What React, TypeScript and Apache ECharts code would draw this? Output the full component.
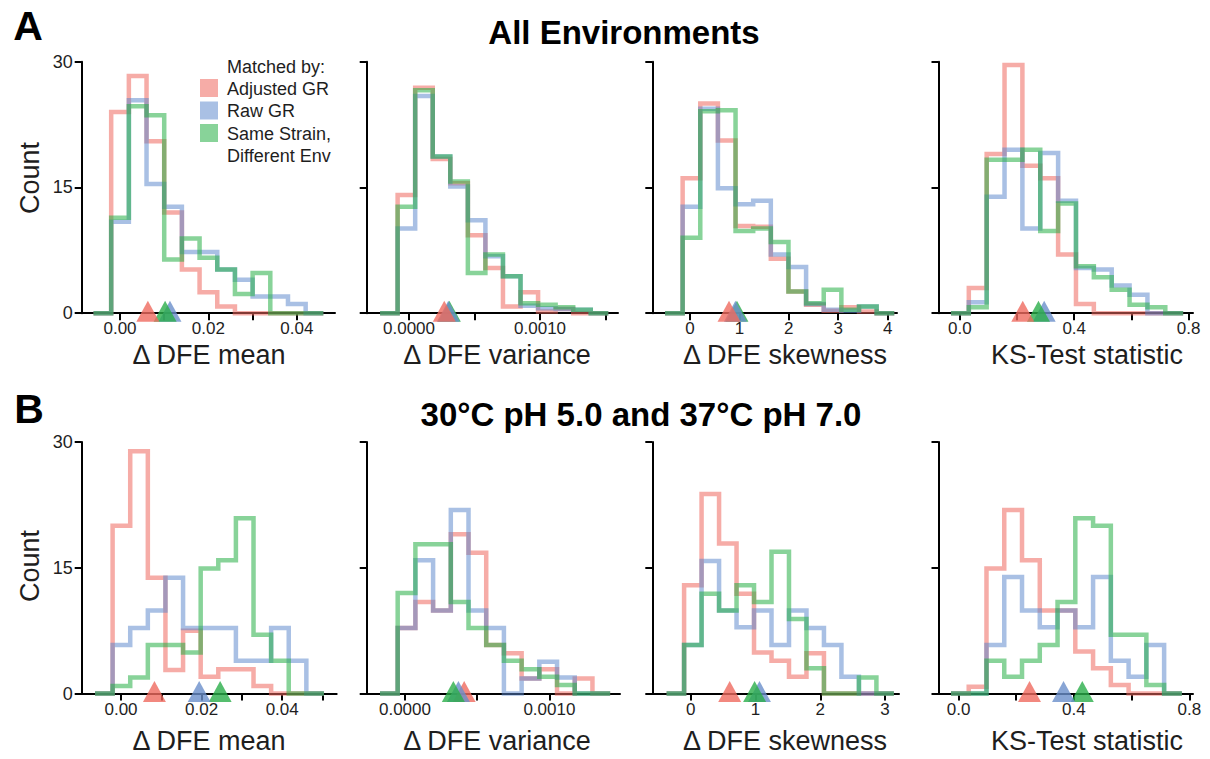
import React, { useEffect, useRef } from "react";
import * as echarts from "echarts";

// ---------- shared ----------
const SERIES_NAMES = ["Adjusted GR", "Raw GR", "Same Strain, Different Env"];
const COUNT_TICKS = [0, 15, 30];

// ---------- All Environments ----------
// histogram bins: [first edge, bin width]
const meanAllBins = [-0.006, 0.004];
const meanAllAdjusted = [0, 24.0, 28.3, 20.5, 12.0, 5.2, 2.5, 0.8, 0, 0, 0, 0, 0];
const meanAllRaw = [0, 10.9, 25.4, 15.4, 12.7, 7.3, 7.3, 5.2, 4.0, 2.0, 2.0, 1.1, 0];
const meanAllStrain = [0, 11.4, 24.7, 23.6, 6.4, 8.9, 6.6, 5.2, 2.3, 4.8, 0, 0, 0];
const meanAllMedians = [0.0063, 0.0113, 0.0102];

const varAllBins = [-0.000221, 0.000134];
const varAllAdjusted = [0, 14.1, 26.9, 18.4, 15.5, 9.3, 5.4, 0.8, 2.5, 0.2, 0.5, 0, 0];
const varAllRaw = [0, 10.1, 25.9, 18.7, 15.1, 11.1, 6.8, 4.4, 0.9, 0.6, 0.5, 0.4, 0];
const varAllStrain = [0, 12.7, 26.6, 18.7, 15.7, 4.8, 7.0, 4.4, 1.2, 1.0, 0.7, 0.4, 0];
const varAllMedians = [0.000269, 0.0003, 0.000308];

const skewAllBins = [-0.506, 0.357];
const skewAllAdjusted = [0, 16.1, 25.0, 20.6, 10.4, 10.3, 6.5, 2.6, 1.0, 0.3, 0.7, 0.2, 0];
const skewAllRaw = [0, 12.7, 24.4, 14.9, 13.0, 13.4, 7.0, 5.5, 1.1, 0.4, 0.3, 0.8, 0];
const skewAllStrain = [0, 9.0, 24.1, 24.2, 9.8, 10.1, 8.5, 2.6, 1.2, 2.8, 0.4, 0.8, 0];
const skewAllMedians = [0.79, 0.92, 0.95];

const ksAllBins = [-0.03125, 0.0625];
const ksAllAdjusted = [0, 3.0, 19.0, 29.6, 17.6, 16.1, 7.0, 1.1, 0, 0, 0, 0, 0];
const ksAllRaw = [0, 1.3, 13.9, 19.5, 10.1, 19.1, 13.4, 5.4, 5.2, 3.3, 2.2, 0, 0];
const ksAllStrain = [0, 0.7, 18.3, 18.3, 19.5, 9.8, 13.1, 5.6, 4.3, 2.8, 1.0, 0.7, 0];
const ksAllMedians = [0.22, 0.295, 0.275];

// ---------- 30°C pH 5.0 and 37°C pH 7.0 ----------
const meanPairBins = [-0.00645, 0.00437];
const meanPairAdjusted = [0, 20.0, 28.9, 13.8, 2.8, 7.5, 2.0, 2.9, 2.9, 0.9, 0, 0, 0];
const meanPairRaw = [0, 5.8, 7.8, 9.9, 13.8, 7.8, 7.8, 7.8, 3.9, 3.9, 7.8, 3.9, 0];
const meanPairStrain = [0, 0.9, 1.9, 5.8, 5.8, 4.9, 14.9, 15.9, 20.9, 7.0, 3.9, 0, 0];
const meanPairMedians = [0.0083, 0.0194, 0.0246];

const varPairBins = [-0.000173, 0.0001226];
const varPairAdjusted = [0, 7.8, 10.9, 9.9, 19.0, 16.8, 5.8, 4.8, 1.8, 2.9, 0, 1.8, 0];
const varPairRaw = [0, 7.8, 15.9, 9.9, 21.9, 9.9, 7.8, 0, 1.8, 3.8, 1.9, 0, 0];
const varPairStrain = [0, 12.0, 17.8, 17.8, 10.9, 7.8, 5.8, 3.9, 2.9, 2.0, 1.0, 0, 0];
const varPairMedians = [0.00041, 0.00037, 0.000335];

const skewPairBins = [-0.374, 0.27];
const skewPairAdjusted = [0, 12.9, 23.8, 17.9, 11.9, 4.9, 3.9, 2.0, 4.8, 0, 0, 0, 0];
const skewPairRaw = [0, 5.8, 15.8, 9.9, 7.9, 9.9, 5.8, 9.9, 7.8, 5.8, 2.0, 0, 0];
const skewPairStrain = [0, 5.8, 11.9, 9.9, 12.9, 10.9, 16.9, 8.9, 3.0, 0, 0, 1.9, 0];
const skewPairMedians = [0.6, 1.06, 0.985];

const ksPairBins = [-0.0264, 0.0616];
const ksPairAdjusted = [0, 0.8, 14.9, 21.9, 15.9, 9.9, 9.9, 5.0, 3.0, 1.0, 0, 0, 0];
const ksPairRaw = [0, 0, 5.8, 13.9, 9.9, 7.9, 9.9, 7.9, 13.9, 3.9, 2.0, 5.8, 0];
const ksPairStrain = [0, 0, 3.9, 2.0, 3.9, 5.8, 10.9, 20.9, 20.0, 7.0, 7.0, 1.0, 0];
const ksPairMedians = [0.246, 0.364, 0.429];

// ---------- axis ticks ----------
const meanTicksA = [0, 0.01, 0.02, 0.03, 0.04];
const meanTicksB = [0, 0.01, 0.02, 0.03, 0.04, 0.05];
const meanLabels = [0, 0.02, 0.04];
const varTicksA = [0, 0.0005, 0.001, 0.0015];
const varTicksB = [0, 0.0005, 0.001];
const varLabels = [0, 0.001];
const skewTicksA = [0, 1, 2, 3, 4];
const skewTicksB = [0, 1, 2, 3];
const ksTicks = [0, 0.2, 0.4, 0.6, 0.8];
const ksLabels = [0, 0.4, 0.8];

const AXIS_TITLES = ["Δ DFE mean", "Δ DFE variance", "Δ DFE skewness", "KS-Test statistic"];

// ---------- styling / layout ----------
const FONT = '"Liberation Sans", Arial, Helvetica, sans-serif';
const LINE_COLORS = ["rgba(239,104,94,0.55)", "rgba(90,134,204,0.52)", "rgba(38,174,70,0.55)"];
const MARK_COLORS = ["#EF6A5F", "#6A8FCB", "#2AAE4A"];
const TEXT = "#1e1e1e";

const COL_LEFT = [81.7, 366.7, 652.3, 938.5];
const ROW_TOP = [61.7, 442];
const PLOT_H = 251.5;
const TITLE_X = [209, 497, 785, 1087];
const TITLE_Y = [355, 741];

type Panel = {
  row: number;
  col: number;
  bins: number[];
  counts: number[][];
  medians: number[];
  xMin: number;
  xMax: number;
  right: number;
  ticks: number[];
  labels: number[];
  decimals: number;
};

const panels: Panel[] = [
  { row: 0, col: 0, bins: meanAllBins, counts: [meanAllAdjusted, meanAllRaw, meanAllStrain], medians: meanAllMedians, xMin: -0.00867, xMax: 0.04864, right: 335, ticks: meanTicksA, labels: meanLabels, decimals: 2 },
  { row: 0, col: 1, bins: varAllBins, counts: [varAllAdjusted, varAllRaw, varAllStrain], medians: varAllMedians, xMin: -0.000323, xMax: 0.001595, right: 618, ticks: varTicksA, labels: varLabels, decimals: 4 },
  { row: 0, col: 2, bins: skewAllBins, counts: [skewAllAdjusted, skewAllRaw, skewAllStrain], medians: skewAllMedians, xMin: -0.763, xMax: 4.19, right: 897, ticks: skewTicksA, labels: skewTicksA, decimals: 0 },
  { row: 0, col: 3, bins: ksAllBins, counts: [ksAllAdjusted, ksAllRaw, ksAllStrain], medians: ksAllMedians, xMin: -0.0748, xMax: 0.8157, right: 1193, ticks: ksTicks, labels: ksLabels, decimals: 1 },
  { row: 1, col: 0, bins: meanPairBins, counts: [meanPairAdjusted, meanPairRaw, meanPairStrain], medians: meanPairMedians, xMin: -0.00975, xMax: 0.05352, right: 336.7, ticks: meanTicksB, labels: meanLabels, decimals: 2 },
  { row: 1, col: 1, bins: varPairBins, counts: [varPairAdjusted, varPairRaw, varPairStrain], medians: varPairMedians, xMin: -0.000265, xMax: 0.001489, right: 620, ticks: varTicksB, labels: varLabels, decimals: 4 },
  { row: 1, col: 2, bins: skewPairBins, counts: [skewPairAdjusted, skewPairRaw, skewPairStrain], medians: skewPairMedians, xMin: -0.595, xMax: 3.215, right: 899, ticks: skewTicksB, labels: skewTicksB, decimals: 0 },
  { row: 1, col: 3, bins: ksPairBins, counts: [ksPairAdjusted, ksPairRaw, ksPairStrain], medians: ksPairMedians, xMin: -0.0696, xMax: 0.8129, right: 1193, ticks: ksTicks, labels: ksLabels, decimals: 1 },
];

// outline of a histogram as a closed staircase along the bin edges
function stepOutline(bins: number[], counts: number[]): number[][] {
  const [start, width] = bins;
  const pts: number[][] = [[start, 0]];
  counts.forEach((c, i) => {
    const x0 = start + i * width;
    pts.push([x0, c], [x0 + width, c]);
  });
  pts.push([start + counts.length * width, 0]);
  return pts;
}

const axisLineStyle = { color: "#000", width: 2 };

function buildOption() {
  const grid: any[] = [];
  const xAxis: any[] = [];
  const yAxis: any[] = [];
  const series: any[] = [];

  panels.forEach((p, i) => {
    const left = COL_LEFT[p.col];
    grid.push({ left, top: ROW_TOP[p.row], width: p.right - left, height: PLOT_H, containLabel: false });
    xAxis.push({
      type: "value",
      gridIndex: i,
      min: p.xMin,
      max: p.xMax,
      axisLine: { show: true, onZero: false, lineStyle: axisLineStyle },
      axisTick: { show: true, customValues: p.ticks, length: 7, lineStyle: axisLineStyle },
      axisLabel: {
        show: true,
        customValues: p.labels,
        formatter: (v: number) => v.toFixed(p.decimals),
        color: TEXT,
        fontSize: 17,
        lineHeight: 17,
        fontFamily: FONT,
        margin: 7,
        hideOverlap: false,
      },
      splitLine: { show: false },
    });
    yAxis.push({
      type: "value",
      gridIndex: i,
      min: 0,
      max: 30,
      interval: 15,
      axisLine: { show: true, onZero: false, lineStyle: axisLineStyle },
      axisTick: { show: true, customValues: COUNT_TICKS, length: 7, lineStyle: axisLineStyle },
      axisLabel: {
        show: p.col === 0,
        customValues: COUNT_TICKS,
        color: TEXT,
        fontSize: 18,
        fontFamily: FONT,
        margin: 9,
      },
      splitLine: { show: false },
    });

    p.counts.forEach((counts, k) => {
      series.push({
        type: "line",
        name: SERIES_NAMES[k],
        xAxisIndex: i,
        yAxisIndex: i,
        data: stepOutline(p.bins, counts),
        symbol: "none",
        showSymbol: false,
        silent: true,
        clip: false,
        z: 3,
        lineStyle: { color: LINE_COLORS[k], width: 4.5, join: "miter", cap: "butt" },
        itemStyle: { color: LINE_COLORS[k] },
      });
    });

    // median markers: leftmost drawn last so it sits on top
    const order = [0, 1, 2].sort((a, b) => p.medians[b] - p.medians[a]);
    series.push({
      type: "scatter",
      xAxisIndex: i,
      yAxisIndex: i,
      symbol: "triangle",
      symbolSize: [23, 21],
      symbolOffset: [0, -2],
      silent: true,
      z: 5,
      data: order.map((k) => ({ value: [p.medians[k], 0], itemStyle: { color: MARK_COLORS[k] } })),
    });
  });

  const txt = (text: string, x: number, y: number, size: number, opts: any = {}) => ({
    type: "text",
    x,
    y,
    rotation: opts.rotation || 0,
    silent: true,
    style: {
      text,
      x: 0,
      y: 0,
      fill: opts.fill || TEXT,
      font: `${opts.bold ? "bold " : ""}${size}px ${FONT}`,
      lineHeight: size,
      align: opts.align || "center",
      verticalAlign: "middle",
      textAlign: opts.align || "center",
      textVerticalAlign: "middle",
    },
  });

  const graphic: any[] = [
    txt("A", 28, 26, 41, { bold: true, fill: "#000" }),
    txt("All Environments", 624, 32, 33, { bold: true, fill: "#000" }),
    txt("B", 29, 409, 41, { bold: true, fill: "#000" }),
    txt("30°C pH 5.0 and 37°C pH 7.0", 641, 414, 33, { bold: true, fill: "#000" }),
    txt("Count", 30, 178, 27, { rotation: Math.PI / 2 }),
    txt("Count", 30, 566, 27, { rotation: Math.PI / 2 }),
  ];
  [0, 1].forEach((r) =>
    AXIS_TITLES.forEach((t, c) => graphic.push(txt(t, TITLE_X[c], TITLE_Y[r], 27)))
  );

  // legend
  graphic.push(txt("Matched by:", 227, 66.5, 18, { align: "left" }));
  const legendRows = [79, 101.5, 124];
  legendRows.forEach((y, k) =>
    graphic.push({ type: "rect", silent: true, shape: { x: 200, y, width: 18, height: 18 }, style: { fill: LINE_COLORS[k] } })
  );
  graphic.push(txt("Adjusted GR", 227, 88.5, 18, { align: "left" }));
  graphic.push(txt("Raw GR", 227, 111, 18, { align: "left" }));
  graphic.push(txt("Same Strain,", 227, 133.5, 18, { align: "left" }));
  graphic.push(txt("Different Env", 227, 156, 18, { align: "left" }));

  return {
    animation: false,
    backgroundColor: "#fff",
    textStyle: { fontFamily: FONT },
    grid,
    xAxis,
    yAxis,
    series,
    graphic,
  };
}

export default function App() {
  const ref = useRef<HTMLDivElement>(null);
  useEffect(() => {
    const chart = echarts.init(ref.current!, null, { renderer: "svg" });
    chart.setOption(buildOption() as any);
    return () => chart.dispose();
  }, []);
  return (
    <div
      ref={ref}
      style={{ position: "fixed", left: 0, top: 0, width: 1210, height: 759, background: "#fff" }}
    />
  );
}
